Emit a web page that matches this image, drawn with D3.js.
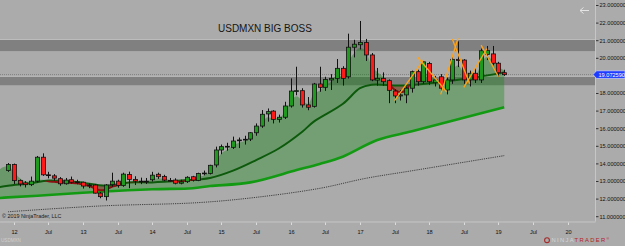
<!DOCTYPE html>
<html>
<head>
<meta charset="utf-8">
<script src="https://cdnjs.cloudflare.com/ajax/libs/d3/7.8.5/d3.min.js"></script>
<style>
  html, body { margin: 0; padding: 0; background: #ababab; }
  svg { display: block; font-family: "Liberation Sans", Arial, sans-serif; }
</style>
</head>
<body>
<div id="chart"></div>
<script>
// monthly USDMXN candles, Dec 2011 .. Feb 2019
const firstCandle = '2011-12';
const openPx = [
  13.62,
  13.97, 13.06, 12.92, 12.82, 13.02, 14.38, 13.38, 13.32, 13.16, 12.87, 13.10, 12.98,
  12.96, 12.76, 12.80, 12.34, 12.14, 12.82, 13.02, 12.77, 13.40, 13.12, 13.02, 13.00,
  13.10, 13.41, 13.29, 13.06, 13.08, 12.90, 12.99, 13.27, 13.06, 13.46, 13.46, 13.94,
  14.79, 14.98, 14.94, 15.32, 15.36, 15.41, 15.77, 16.15, 16.84, 17.00, 16.53, 16.65,
  17.29, 18.14, 18.16, 17.35, 17.27, 18.54, 18.35, 18.77, 18.86, 19.43, 18.95, 20.63,
  20.77, 20.90, 20.19, 18.76, 18.86, 18.73, 18.14, 17.86, 17.92, 18.30, 19.24, 18.67,
  19.71, 18.61, 18.95, 18.20, 18.77, 19.94, 19.90, 18.77, 19.15, 18.77, 20.22, 20.25,
  19.72, 19.18,
];
const highPx = [
  14.05,
  14.02, 13.12, 13.02, 13.28, 14.45, 14.60, 13.55, 13.42, 13.25, 13.20, 13.28, 13.10,
  12.99, 12.90, 12.86, 12.40, 12.85, 13.50, 13.10, 13.50, 13.56, 13.30, 13.22, 13.20,
  13.55, 13.50, 13.38, 13.20, 13.18, 13.10, 13.30, 13.32, 13.50, 13.62, 13.95, 14.98,
  15.10, 15.20, 15.55, 15.50, 15.60, 15.80, 16.30, 17.06, 17.15, 17.05, 16.80, 17.53,
  18.86, 19.52, 18.30, 17.80, 18.60, 19.52, 18.95, 19.10, 19.96, 19.55, 21.40, 21.05,
  22.12, 21.10, 20.30, 19.45, 19.20, 18.80, 18.25, 18.20, 18.40, 19.30, 19.35, 19.85,
  19.80, 19.00, 19.10, 18.90, 20.10, 20.96, 19.95, 19.30, 19.45, 20.55, 20.70, 20.70,
  19.80, 19.35,
];
const lowPx = [
  13.55,
  12.86, 12.72, 12.66, 12.74, 12.95, 13.32, 13.18, 13.05, 12.76, 12.82, 12.88, 12.84,
  12.60, 12.62, 12.32, 12.05, 11.92, 12.70, 12.65, 12.70, 12.62, 12.80, 12.85, 12.86,
  13.00, 13.15, 13.02, 12.98, 12.84, 12.84, 12.92, 13.00, 13.02, 13.35, 13.40, 13.80,
  14.55, 14.75, 14.85, 14.90, 15.10, 15.30, 15.60, 16.05, 16.40, 16.30, 16.35, 16.55,
  17.20, 17.90, 17.20, 17.05, 17.20, 18.10, 18.15, 18.20, 18.60, 18.45, 18.85, 20.05,
  20.50, 19.85, 18.70, 18.45, 18.45, 17.45, 17.45, 17.60, 17.45, 18.05, 18.45, 18.55,
  18.50, 18.40, 18.15, 17.95, 18.55, 19.50, 18.55, 18.40, 18.60, 18.60, 19.90, 19.60,
  18.95, 19.00,
];
const closePx = [
  13.97,
  13.05, 12.86, 12.82, 13.02, 14.38, 13.38, 13.34, 13.19, 12.87, 13.08, 12.96, 12.94,
  12.74, 12.80, 12.34, 12.14, 12.80, 13.02, 12.77, 13.42, 13.12, 13.02, 13.00, 13.02,
  13.36, 13.27, 13.08, 13.04, 12.90, 12.98, 13.24, 13.08, 13.46, 13.48, 13.92, 14.79,
  14.98, 15.00, 15.30, 15.36, 15.40, 15.77, 16.15, 16.82, 16.97, 16.53, 16.65, 17.29,
  18.14, 18.16, 17.35, 17.22, 18.54, 18.35, 18.80, 18.86, 19.43, 18.86, 20.63, 20.80,
  20.90, 20.19, 18.77, 18.86, 18.67, 18.18, 17.86, 17.92, 18.30, 19.24, 18.67, 19.80,
  18.67, 18.77, 18.30, 18.77, 19.94, 19.88, 18.77, 19.15, 18.77, 20.43, 20.45, 19.72,
  19.18, 19.07,
];

// fast average (top of the shaded band), monthly from Oct 2011
const fastStart = '2011-10';
const fastValues = [
  13.40, 13.80, 13.87,
  13.55, 13.20, 13.02, 12.98, 13.08, 13.10, 13.02, 12.98, 12.94, 12.93, 12.92, 12.90,
  12.82, 12.75, 12.62, 12.50, 12.55, 12.70, 12.78, 12.92, 13.00, 13.02, 13.02, 13.03,
  13.12, 13.18, 13.15, 13.10, 13.02, 13.00, 13.08, 13.10, 13.25, 13.36, 13.60, 14.15,
  14.60, 14.80, 15.05, 15.20, 15.30, 15.54, 15.84, 16.33, 16.65, 16.59, 16.62, 16.96,
  17.55, 17.85, 17.60, 17.41, 17.98, 18.16, 18.48, 18.67, 19.05, 18.96, 19.79, 20.30,
  20.60, 20.40, 19.58, 19.22, 18.95, 18.56, 18.21, 18.07, 18.18, 18.71, 18.69, 19.25,
  18.96, 18.86, 18.68, 18.72, 19.31, 19.60, 19.19, 19.17, 18.97, 19.70, 20.08, 19.90,
  19.54, 19.30,
];

// middle average (dark green line)
const midMonths = ['2011-10', '2011-12', '2012-04', '2012-07', '2012-12', '2013-05', '2013-09',
  '2014-01', '2014-06', '2014-11', '2015-03', '2015-07', '2015-11', '2016-03', '2016-05',
  '2016-10', '2017-01', '2017-03', '2017-08', '2018-01', '2018-08', '2019-02'];
const midValues = [12.66, 12.76, 12.90, 13.05, 12.97, 12.76, 12.95,
  12.95, 13.05, 13.20, 13.62, 14.22, 14.89, 15.83, 16.40,
  17.40, 18.30, 18.50, 18.45, 18.58, 18.86, 19.20];

// slow average (bright green line)
const slowMonths = ['2011-10', '2011-12', '2012-07', '2013-04', '2014-01', '2014-08', '2014-11',
  '2015-06', '2016-02', '2016-06', '2016-10', '2017-04', '2017-10', '2018-05', '2019-02'];
const slowValues = [12.05, 12.10, 12.23, 12.42, 12.56, 12.62, 12.74,
  12.95, 13.65, 14.00, 14.41, 15.36, 15.85, 16.45, 17.22];

// long average (dotted line)
const longMonths = ['2011-12', '2013-04', '2014-09', '2015-07', '2016-06', '2017-02', '2017-10', '2019-02'];
const longValues = [11.28, 11.61, 11.80, 12.10, 12.61, 13.18, 13.61, 14.47];

// grey zones and hand drawn zigzag
const zoneBands = [[20.41, 21.04], [18.47, 18.95]];
const lastPrice = 19.07259;
const zigzagLines = [
  [['2017-07', 17.60], ['2017-12', 19.90]],
  [['2017-11', 20.06], ['2018-04', 18.10]],
  [['2018-03', 17.95], ['2018-06', 21.15]],
  [['2018-05', 21.10], ['2018-08', 18.55]],
  [['2018-07', 18.35], ['2018-11', 20.55]],
  [['2018-10', 20.75], ['2019-01', 18.95]],
];
const priceTicks = [11, 12, 13, 14, 15, 16, 17, 18, 19, 20, 21, 22, 23];

const fmtMonth = d3.timeFormat('%Y-%m');
const parseMonth = d3.timeParse('%Y-%m');
function monthsFrom(start, count) {
  const s = parseMonth(start);
  return d3.timeMonth.range(s, d3.timeMonth.offset(s, count)).map(fmtMonth);
}

class BossChart {
  constructor(node, options) {
    this.options = options || {};
    this.container = d3.select(node);
    this.setupVar();
    this.setupUtils();
    this.setupDOM();
  }

  setupVar() {
    this.width = 625;
    this.height = 246;
    this.plotRight = 595;
    this.plotBottom = 221.5;
    this.step = 5.77;
    this.axisMonths = monthsFrom('2011-10', 105);
  }

  setupUtils() {
    const x0 = -3.54;
    this.x = d3.scalePoint()
      .domain(this.axisMonths)
      .range([x0, x0 + this.step * (this.axisMonths.length - 1)]);
    this.y = d3.scaleLinear()
      .domain([11, 23])
      .range([216.7, 5.5]);
    this.smooth = d3.line().curve(d3.curveCatmullRom.alpha(0.5));
    this.mono = d3.line().curve(d3.curveMonotoneX);
  }

  setupDOM() {
    this.svg = this.container.append('svg')
      .attr('width', this.width)
      .attr('height', this.height);
    this.svg.append('rect')
      .attr('width', this.width)
      .attr('height', this.height)
      .attr('fill', '#ababab');
    this.defs = this.svg.append('defs');
    this.defs.append('clipPath').attr('id', 'plot-clip')
      .append('rect')
      .attr('width', this.plotRight)
      .attr('height', this.plotBottom);
    this.plots = this.svg.append('g')
      .attr('class', 'plots')
      .attr('clip-path', 'url(#plot-clip)');
  }

  pts(months, values) {
    return months.map((m, i) => [this.x(m), this.y(values[i])]);
  }

  drawGraph() {
    const y = this.y;

    // grey zones
    zoneBands.forEach((b) => {
      this.plots.append('rect')
        .attr('x', 0)
        .attr('width', this.plotRight)
        .attr('y', y(b[1]))
        .attr('height', y(b[0]) - y(b[1]))
        .attr('fill', '#808080');
      this.plots.append('line')
        .attr('x1', 0).attr('x2', this.plotRight)
        .attr('y1', y(b[1]) - 0.5).attr('y2', y(b[1]) - 0.5)
        .attr('stroke', '#bcbcbc');
    });

    this.plots.append('line')
      .attr('x1', 0).attr('x2', this.plotRight)
      .attr('y1', y(lastPrice)).attr('y2', y(lastPrice))
      .attr('stroke', '#808080')
      .attr('stroke-dasharray', '1,1');

    const fastPts = this.pts(monthsFrom(fastStart, fastValues.length), fastValues);
    const midPts = this.pts(midMonths, midValues);
    const slowPts = this.pts(slowMonths, slowValues);
    const longPts = this.pts(longMonths, longValues);

    const midPath = this.smooth(midPts);
    const xa = midPts[0][0];
    const xb = midPts[midPts.length - 1][0];
    this.defs.append('clipPath').attr('id', 'above-mid')
      .append('path').attr('d', `${midPath}L${xb},-20L${xa},-20Z`);
    this.defs.append('clipPath').attr('id', 'below-mid')
      .append('path').attr('d', `${midPath}L${xb},${this.height}L${xa},${this.height}Z`);

    const fastPath = this.mono(fastPts);
    const fastMid = `${fastPath}${this.smooth(midPts.slice().reverse()).replace(/^M/, 'L')}Z`;
    const midSlow = `${midPath}${this.smooth(slowPts.slice().reverse()).replace(/^M/, 'L')}Z`;

    this.plots.append('path')
      .attr('d', midSlow)
      .attr('fill', 'rgba(0,135,0,0.32)');
    this.plots.append('g').attr('clip-path', 'url(#above-mid)')
      .append('path')
      .attr('d', fastMid)
      .attr('fill', 'rgba(0,120,0,0.38)');
    this.plots.append('g').attr('clip-path', 'url(#below-mid)')
      .append('path')
      .attr('d', fastMid)
      .attr('fill', 'rgba(150,20,20,0.45)');

    this.plots.append('path')
      .attr('d', this.smooth(longPts))
      .attr('fill', 'none')
      .attr('stroke', '#333')
      .attr('stroke-width', 0.9)
      .attr('stroke-dasharray', '1.2,1');
    this.plots.append('path')
      .attr('d', this.smooth(slowPts))
      .attr('fill', 'none')
      .attr('stroke', '#139a13')
      .attr('stroke-width', 2.6);
    this.plots.append('path')
      .attr('d', midPath)
      .attr('fill', 'none')
      .attr('stroke', '#0d5a0d')
      .attr('stroke-width', 2);
    this.plots.append('g').attr('clip-path', 'url(#below-mid)')
      .append('path')
      .attr('d', fastPath)
      .attr('fill', 'none')
      .attr('stroke', '#8a1010')
      .attr('stroke-width', 2);

    this.drawCandles();
    this.drawNotes();
    this.drawAxes();
  }

  drawCandles() {
    const y = this.y;
    const months = monthsFrom(firstCandle, closePx.length);
    const data = months.map((m, i) => ({
      m, o: openPx[i], h: highPx[i], l: lowPx[i], c: closePx[i],
    }));
    const bar = this.plots.selectAll('g.candle')
      .data(data)
      .enter()
      .append('g')
      .attr('class', 'candle');
    bar.append('line')
      .attr('x1', (d) => Math.round(this.x(d.m)) + 0.5)
      .attr('x2', (d) => Math.round(this.x(d.m)) + 0.5)
      .attr('y1', (d) => y(d.h))
      .attr('y2', (d) => y(d.l))
      .attr('stroke', '#111')
      .attr('stroke-width', 1);
    bar.append('rect')
      .attr('x', (d) => Math.round(this.x(d.m)) - 1.5)
      .attr('width', 4)
      .attr('y', (d) => y(Math.max(d.o, d.c)))
      .attr('height', (d) => Math.max(0.8, Math.abs(y(d.o) - y(d.c))))
      .attr('fill', (d) => (d.c >= d.o ? '#1f9a1f' : '#ff1a1a'))
      .attr('stroke', '#111')
      .attr('stroke-width', 0.8);
  }

  drawNotes() {
    const y = this.y;
    this.plots.selectAll('line.zig')
      .data(zigzagLines)
      .enter()
      .append('line')
      .attr('class', 'zig')
      .attr('x1', (d) => this.x(d[0][0]))
      .attr('y1', (d) => y(d[0][1]))
      .attr('x2', (d) => this.x(d[1][0]))
      .attr('y2', (d) => y(d[1][1]))
      .attr('stroke', '#ffa31a')
      .attr('stroke-width', 1.3);

    this.svg.append('text')
      .attr('x', 218)
      .attr('y', 32)
      .attr('font-size', 10)
      .attr('fill', '#161616')
      .text('USDMXN BIG BOSS');

    this.svg.append('text')
      .attr('x', 2)
      .attr('y', 218)
      .attr('font-size', 5.4)
      .attr('fill', '#1a1a1a')
      .text('© 2019 NinjaTrader, LLC');

    // back arrow
    this.svg.append('path')
      .attr('d', 'M580,10.5H589M580,10.5L583.5,7.5M580,10.5L583.5,13.5')
      .attr('fill', 'none')
      .attr('stroke', '#e4e4e4')
      .attr('stroke-width', 1);
  }

  drawAxes() {
    const y = this.y;
    const fmt = d3.format('.6f');
    const frame = this.svg.append('g').attr('class', 'frame');
    frame.append('line')
      .attr('x1', this.plotRight + 0.5).attr('x2', this.plotRight + 0.5)
      .attr('y1', 0).attr('y2', this.plotBottom)
      .attr('stroke', '#c6c6c6');
    frame.append('line')
      .attr('x1', 0).attr('x2', this.plotRight + 0.5)
      .attr('y1', this.plotBottom + 0.5).attr('y2', this.plotBottom + 0.5)
      .attr('stroke', '#c6c6c6');

    const yTick = this.svg.selectAll('g.ytick')
      .data(priceTicks)
      .enter()
      .append('g')
      .attr('class', 'ytick')
      .attr('transform', (d) => `translate(0,${y(d)})`);
    yTick.append('line')
      .attr('x1', this.plotRight + 1).attr('x2', this.plotRight + 3.5)
      .attr('stroke', '#333');
    yTick.append('text')
      .attr('x', 599.5)
      .attr('dy', '0.35em')
      .attr('font-size', 5.6)
      .attr('fill', '#111')
      .text((d) => fmt(d));

    // x axis: January shows the year, July shows "Jul"
    const xTicks = this.axisMonths.filter((m) => /-(01|07)$/.test(m) && m >= '2012-01');
    const xTick = this.svg.selectAll('g.xtick')
      .data(xTicks)
      .enter()
      .append('g')
      .attr('class', 'xtick')
      .attr('transform', (d) => `translate(${Math.round(this.x(d)) + 0.5},0)`);
    xTick.append('line')
      .attr('y1', this.plotBottom + 1).attr('y2', this.plotBottom + 3.5)
      .attr('stroke', '#dcdcdc');
    xTick.append('text')
      .attr('y', 234)
      .attr('text-anchor', 'middle')
      .attr('font-size', 5.6)
      .attr('fill', '#111')
      .text((d) => (d.endsWith('-01') ? d.slice(2, 4) : 'Jul'));

    // last price marker
    const ly = y(lastPrice);
    this.svg.append('path')
      .attr('d', `M593,${ly}L596.5,${ly - 3.8}H625V${ly + 3.8}H596.5Z`)
      .attr('fill', '#1e3cff')
      .attr('stroke', '#e8e8ff')
      .attr('stroke-width', 0.6);
    this.svg.append('text')
      .attr('x', 598.5)
      .attr('y', ly)
      .attr('dy', '0.35em')
      .attr('font-size', 5.6)
      .attr('fill', '#fff')
      .text(fmt(lastPrice));

    this.svg.append('text')
      .attr('x', 1)
      .attr('y', 242)
      .attr('font-size', 4.6)
      .attr('fill', '#cfcfcf')
      .text('USDMXN');

    const logo = this.svg.append('g').attr('class', 'logo');
    logo.append('circle')
      .attr('cx', 547).attr('cy', 240.2).attr('r', 2.4)
      .attr('fill', 'none')
      .attr('stroke', '#a52a2a')
      .attr('stroke-width', 1.1);
    const word = logo.append('text')
      .attr('x', 551.5)
      .attr('y', 242.3)
      .attr('font-size', 5.8)
      .attr('letter-spacing', 1.35);
    word.append('tspan').attr('fill', '#d6d6d6').text('NINJA');
    word.append('tspan').attr('fill', '#b32222').text('TRADER');
    word.append('tspan').attr('fill', '#b32222').attr('font-size', 3.5).attr('dy', -2).text('®');
  }
}

const chart = new BossChart(document.getElementById('chart'));
chart.drawGraph();
</script>
</body>
</html>
